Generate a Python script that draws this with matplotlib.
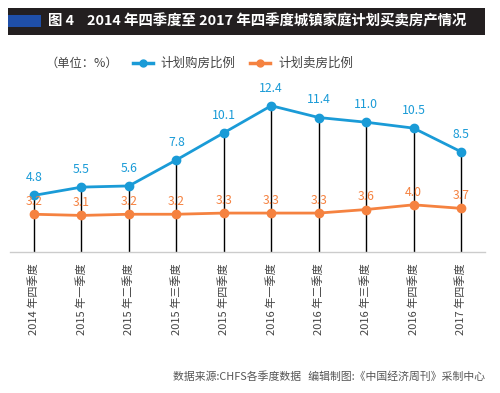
import matplotlib
matplotlib.use("Agg")
import matplotlib.pyplot as plt
from matplotlib.patches import Rectangle
from matplotlib.lines import Line2D

plt.rcParams['font.family'] = ['Noto Sans CJK SC', 'DejaVu Sans']

categories = ["2014 年四季度", "2015 年一季度", "2015 年二季度", "2015 年三季度", "2015 年四季度",
              "2016 年一季度", "2016 年二季度", "2016 年三季度", "2016 年四季度", "2017 年四季度"]
buy = [4.8, 5.5, 5.6, 7.8, 10.1, 12.4, 11.4, 11.0, 10.5, 8.5]
sell = [3.2, 3.1, 3.2, 3.2, 3.3, 3.3, 3.3, 3.6, 4.0, 3.7]
buy_label = "计划购房比例"
sell_label = "计划卖房比例"
title = "图 4    2014 年四季度至 2017 年四季度城镇家庭计划买卖房产情况"
unit = "（单位：%）"
source = "数据来源:CHFS各季度数据   编辑制图:《中国经济周刊》采制中心"

BLUE = "#1a9bd7"
ORANGE = "#f58240"

W, H = 500, 393
fig = plt.figure(figsize=(5, 3.93), dpi=100)
fig.patch.set_facecolor("white")

# title bar
fig.patches.append(Rectangle((8 / W, 1 - 35 / H), 477 / W, 27 / H, transform=fig.transFigure,
                             facecolor="#231f20", edgecolor="none"))
fig.patches.append(Rectangle((8 / W, 1 - 27 / H), 33 / W, 12 / H, transform=fig.transFigure,
                             facecolor="#1f4fa8", edgecolor="none"))
fig.text(48 / W, 1 - 21.5 / H, title, color="white", fontsize=10.4, fontweight="bold",
         va="center", ha="left")

# axes
ax = fig.add_axes([10 / W, 1 - 252 / H, 475 / W, 172 / H])
n = len(categories)
x = list(range(n))
ax.set_xlim(-0.506, 9.506)
ax.set_ylim(0, 14.58)
for s in ["top", "right", "left"]:
    ax.spines[s].set_visible(False)
ax.spines["bottom"].set_color("#cccccc")
ax.spines["bottom"].set_linewidth(1.0)
ax.set_yticks([])
ax.set_xticks(x)
ax.set_xticklabels(categories, rotation=90, fontsize=8, color="#444444")
ax.tick_params(axis="x", length=0, pad=8)

ax.vlines(x, 0, buy, color="black", linewidth=1.0, zorder=1)
ax.plot(x, buy, color=BLUE, linewidth=2, marker="o", markersize=6, zorder=3)
ax.plot(x, sell, color=ORANGE, linewidth=2, marker="o", markersize=6, zorder=3)

for xi, v in zip(x, buy):
    ax.annotate(f"{v:.1f}", (xi, v), xytext=(0, 8), textcoords="offset points",
                ha="center", va="bottom", fontsize=8.8, color=BLUE)
for xi, v in zip(x, sell):
    ax.annotate(f"{v:.1f}", (xi, v), xytext=(0, 4.5), textcoords="offset points",
                ha="center", va="bottom", fontsize=8.8, color=ORANGE)

# legend
ly = 1 - 63 / H
fig.text(45 / W, ly, unit, fontsize=8.8, color="#444444", va="center", ha="left")
fig.add_artist(Line2D([133 / W, 153 / W], [ly, ly], transform=fig.transFigure,
                      color=BLUE, linewidth=2.5))
fig.add_artist(Line2D([143 / W], [ly], transform=fig.transFigure,
                      color=BLUE, marker="o", markersize=5, linestyle="none"))
fig.text(160 / W, ly, buy_label, fontsize=9, color="#444444", va="center", ha="left")
fig.add_artist(Line2D([250 / W, 270 / W], [ly, ly], transform=fig.transFigure,
                      color=ORANGE, linewidth=2.5))
fig.add_artist(Line2D([260 / W], [ly], transform=fig.transFigure,
                      color=ORANGE, marker="o", markersize=5, linestyle="none"))
fig.text(278 / W, ly, sell_label, fontsize=9, color="#444444", va="center", ha="left")

fig.text(485 / W, 1 - 377 / H, source, fontsize=7.8, color="#555555", va="center", ha="right")

fig.savefig("out.png", dpi=100)
